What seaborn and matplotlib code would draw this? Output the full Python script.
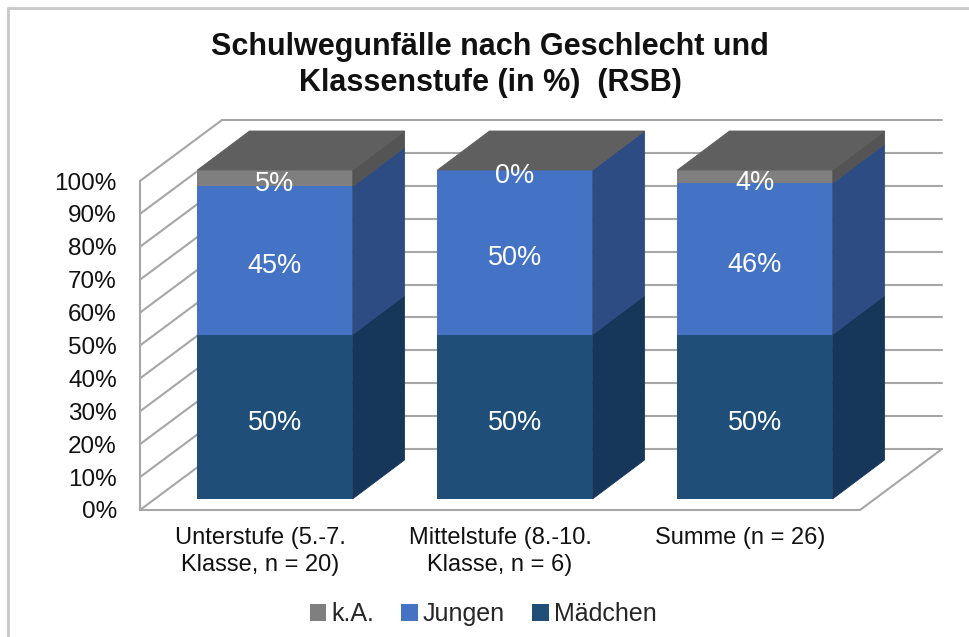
import numpy as np
import pandas as pd
import matplotlib
matplotlib.use("Agg")
import matplotlib.pyplot as plt
import matplotlib.transforms as mtransforms
from matplotlib.patches import Polygon, Patch
from matplotlib.lines import Line2D
import seaborn as sns

# ---------------- data ----------------
categories = ["Unterstufe (5.-7.\nKlasse, n = 20)",
              "Mittelstufe (8.-10.\nKlasse, n = 6)",
              "Summe (n = 26)"]
maedchen = [50, 50, 50]
jungen = [45, 50, 46]
ka = [5, 0, 4]
series_names = ["Mädchen", "Jungen", "k.A."]
ytick_values = [0, 10, 20, 30, 40, 50, 60, 70, 80, 90, 100]
ytick_labels = [f"{v}%" for v in ytick_values]
title = "Schulwegunfälle nach Geschlecht und\nKlassenstufe (in %)  (RSB)"

# ---------------- styling ----------------
front_colors = {"Mädchen": "#1F4E79", "Jungen": "#4472C4", "k.A.": "#7F7F7F"}
side_colors = {"Mädchen": "#17375A", "Jungen": "#2D4C84", "k.A.": "#545454"}
top_color = "#5F5F5F"
wall_color = "#A6A6A6"

sns.set_theme(style="white")
plt.rcParams['font.family'] = ['Liberation Sans', 'DejaVu Sans']

W, H = 970, 637
fig = plt.figure(figsize=(W / 100, H / 100), dpi=100)

# bar front plane geometry in pixels
xl_px, xr_px = 155, 875      # x = -0.5 .. 2.5
yb_px, yt_px = 499, 170      # y = 0 .. 100
ax = fig.add_axes([xl_px / W, 1 - yb_px / H, (xr_px - xl_px) / W, (yb_px - yt_px) / H])

sx = 3.0 / (xr_px - xl_px)   # data units per px (x)
sy = 100.0 / (yb_px - yt_px)  # data units per px (y)


def off(dx_px, dy_px_up):
    return dx_px * sx, dy_px_up * sy


# depth offsets (pixels: right, up)
f_dx, f_dy = off(-15, -11)   # front plane relative to bar fronts
b_dx, b_dy = off(67, 50)     # back wall relative to bar fronts
d_dx, d_dy = off(52, 39)     # bar depth

df = pd.DataFrame({"cat": categories, "Mädchen": maedchen, "Jungen": jungen, "k.A.": ka})
df["lvl1"] = df["Mädchen"]
df["lvl2"] = df["Mädchen"] + df["Jungen"]
df["lvl3"] = df["lvl2"] + df["k.A."]

bw = 155 / 240
common = dict(data=df, x="cat", width=bw, saturation=1, ax=ax, order=categories,
              zorder=2, linewidth=0, edgecolor="none")
sns.barplot(y="lvl3", color=front_colors["k.A."], **common)
n0 = len(ax.patches)
sns.barplot(y="lvl2", color=front_colors["Jungen"], **common)
sns.barplot(y="lvl1", color=front_colors["Mädchen"], **common)
bar_patches = ax.patches[:n0]

ax.set_xlim(-0.5, 2.5)
ax.set_ylim(0, 100)
for s in ax.spines.values():
    s.set_visible(False)
ax.patch.set_visible(False)
ax.grid(False)

# ---------------- walls & floor ----------------
fl_x = -0.5 + f_dx
fr_x = 2.5 + f_dx
bl_x = fl_x + (b_dx - f_dx)
br_x = fr_x + (b_dx - f_dx)
lw = 1.5
for v in ytick_values:
    # back wall
    ax.plot([bl_x, br_x], [v + b_dy, v + b_dy], color=wall_color, lw=lw, zorder=0.5, clip_on=False)
    # left wall
    ax.plot([fl_x, bl_x], [v + f_dy, v + b_dy], color=wall_color, lw=lw, zorder=0.6, clip_on=False)
ax.plot([fl_x, fl_x], [0 + f_dy, 100 + f_dy], color=wall_color, lw=lw, zorder=0.6, clip_on=False)
ax.plot([fl_x, fr_x, br_x], [f_dy, f_dy, b_dy], color=wall_color, lw=lw, zorder=0.6, clip_on=False)

# ---------------- 3D faces ----------------
for i, p in enumerate(bar_patches):
    x0 = p.get_x()
    w = p.get_width()
    x1 = x0 + w
    segs = [("Mädchen", 0, df["lvl1"][i]), ("Jungen", df["lvl1"][i], df["lvl2"][i]),
            ("k.A.", df["lvl2"][i], df["lvl3"][i])]
    for name, b, t in segs:
        if t > b:
            ax.add_patch(Polygon([(x1, b), (x1 + d_dx, b + d_dy), (x1 + d_dx, t + d_dy), (x1, t)],
                                 closed=True, facecolor=side_colors[name], edgecolor=side_colors[name],
                                 linewidth=0.6, zorder=2.5, clip_on=False))
    T = df["lvl3"][i]
    ax.add_patch(Polygon([(x0, T), (x1, T), (x1 + d_dx, T + d_dy), (x0 + d_dx, T + d_dy)],
                         closed=True, facecolor=top_color, edgecolor=top_color, linewidth=0.6,
                         zorder=2.6, clip_on=False))
    # labels
    cx = x0 + w / 2
    for name, b, t in segs:
        ax.text(cx, (b + t) / 2 - 1.8, f"{t - b:.0f}%", color="white", ha="center", va="center",
                fontsize=19.5, zorder=5, clip_on=False)

# ---------------- ticks ----------------
ax.set_yticks(ytick_values)
ax.set_yticklabels(ytick_labels, fontsize=17.5, color="#111111")
ax.tick_params(axis="y", length=0, pad=(xl_px - 117) * 0.72)
ax.tick_params(axis="x", length=0, pad=20)
ax.set_xlabel("")
ax.set_ylabel("")
ax.set_xticks(range(len(categories)))
ax.set_xticklabels(categories, fontsize=17, color="#111111", linespacing=1.3)
ytr = mtransforms.ScaledTranslation(0, -11 / 100, fig.dpi_scale_trans)
for lab in ax.get_yticklabels():
    lab.set_transform(lab.get_transform() + ytr)
xtr = mtransforms.ScaledTranslation(-15 / 100, 0, fig.dpi_scale_trans)
for lab in ax.get_xticklabels():
    lab.set_transform(lab.get_transform() + xtr)

# ---------------- title ----------------
fig.text(490 / W, 1 - 65 / H, title, ha="center", va="center", fontsize=22,
         fontweight="bold", color="#111111", linespacing=1.22)

# ---------------- legend ----------------
handles = [Patch(facecolor=front_colors[n], edgecolor="none") for n in ["k.A.", "Jungen", "Mädchen"]]
fig.legend(handles, ["k.A.", "Jungen", "Mädchen"], loc="center", bbox_to_anchor=(483 / W, 1 - 614 / H),
           ncol=3, frameon=False, fontsize=18, handlelength=0.65, handleheight=0.65,
           handletextpad=0.2, columnspacing=1.1)

# ---------------- border (top/left) ----------------
fig.add_artist(Line2D([8 / W, 8 / W], [0, 1 - 8 / H], color="#C8C8C8", lw=2, transform=fig.transFigure))
fig.add_artist(Line2D([8 / W, 1], [1 - 8 / H, 1 - 8 / H], color="#C8C8C8", lw=2, transform=fig.transFigure))

fig.savefig("out.png", dpi=100, facecolor="white")
